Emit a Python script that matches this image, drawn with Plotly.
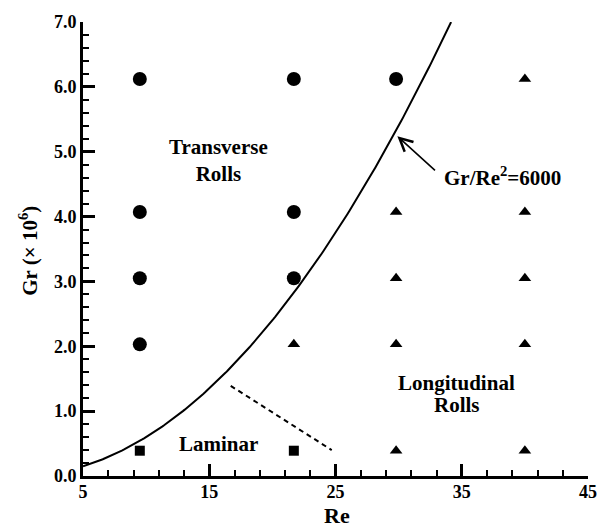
import numpy as np
import plotly.graph_objects as go

# Flow-regime observations, Re vs Gr (in units of 10^6)
transverse_re = [9.5, 9.5, 9.5, 9.5, 21.7, 21.7, 21.7, 29.8]
transverse_gr = [6.12, 4.07, 3.05, 2.03, 6.12, 4.07, 3.05, 6.12]

laminar_re = [9.5, 21.7]
laminar_gr = [0.39, 0.39]

longitudinal_re = [21.7, 29.8, 29.8, 29.8, 29.8, 40.0, 40.0, 40.0, 40.0, 40.0]
longitudinal_gr = [2.03, 4.07, 3.05, 2.03, 0.39, 6.12, 4.07, 3.05, 2.03, 0.39]

# Boundary Gr/Re^2 = 6000
ratio = 6000.0
boundary_re = np.linspace(5, np.sqrt(7.0e6 / ratio), 200)
boundary_gr = ratio * boundary_re ** 2 / 1e6

# Approximate laminar / longitudinal separation
sep_re = [16.7, 24.7]
sep_gr = [1.39, 0.40]

x_ticks = [5, 15, 25, 35, 45]
y_ticks = [0.0, 1.0, 2.0, 3.0, 4.0, 5.0, 6.0, 7.0]

FONT = "Liberation Serif"

fig = go.Figure()

fig.add_trace(go.Scatter(x=boundary_re, y=boundary_gr, mode="lines",
                         line=dict(color="black", width=2), hoverinfo="skip"))
fig.add_trace(go.Scatter(x=sep_re, y=sep_gr, mode="lines",
                         line=dict(color="black", width=2, dash="5px,4px")))
fig.add_trace(go.Scatter(x=transverse_re, y=transverse_gr, mode="markers",
                         marker=dict(symbol="circle", size=14, color="black")))
fig.add_trace(go.Scatter(x=laminar_re, y=laminar_gr, mode="markers",
                         marker=dict(symbol="square", size=10, color="black")))
fig.add_trace(go.Scatter(x=longitudinal_re, y=longitudinal_gr, mode="markers",
                         marker=dict(symbol="triangle-up", size=11, color="black")))

label_font = dict(family=FONT, size=21, color="black")
annotations = [
    dict(x=15.7, y=4.86, text="<b>Transverse<br>Rolls</b>", showarrow=False, font=label_font),
    dict(x=34.6, y=1.44, text="<b>Longitudinal</b>", showarrow=False, font=label_font),
    dict(x=34.6, y=1.10, text="<b>Rolls</b>", showarrow=False, font=label_font),
    dict(x=15.74, y=0.50, text="<b>Laminar</b>", showarrow=False, font=label_font),
    dict(x=33.4, y=4.62, text="<b>Gr/Re<sup>2</sup>=6000</b>", showarrow=False,
         xanchor="left", font=label_font),
    # arrow pointing at the boundary curve
    dict(x=29.9, y=5.24, ax=33.0, ay=4.69, axref="x", ayref="y", xref="x", yref="y",
         text="", showarrow=True, arrowhead=5, arrowsize=1.6, arrowwidth=1.6,
         arrowcolor="black"),
    dict(x=-0.107, y=0.496, xref="paper", yref="paper", textangle=-90,
         xanchor="center", yanchor="middle",
         text="<b>Gr (× 10<sup>6</sup>)</b>", showarrow=False, font=label_font),
    dict(x=0.502, y=-0.087, xref="paper", yref="paper",
         xanchor="center", yanchor="middle",
         text="<b>Re</b>", showarrow=False, font=dict(family=FONT, size=22, color="black")),
]

fig.update_layout(
    width=609, height=529,
    margin=dict(l=83, r=13, t=14, b=53),
    paper_bgcolor="white", plot_bgcolor="white",
    showlegend=False,
    annotations=annotations,
    font=dict(family=FONT, color="black"),
)

fig.update_xaxes(
    range=[5, 45], tickmode="array", tickvals=x_ticks,
    ticktext=[f"<b>{v}</b>" for v in x_ticks],
    ticks="inside", ticklen=12, tickwidth=3, tickcolor="black",
    minor=dict(dtick=2, tick0=5, ticks="inside", ticklen=6, tickwidth=2, tickcolor="black"),
    showline=True, linewidth=3, linecolor="black", showgrid=False, zeroline=False,
    tickfont=dict(family=FONT, size=18, color="black"),
    ticklabelstandoff=-3,
)
fig.update_yaxes(
    range=[0, 7], tickmode="array", tickvals=y_ticks,
    ticktext=[f"<b>{v:.1f}</b>" for v in y_ticks],
    ticks="inside", ticklen=12, tickwidth=3, tickcolor="black",
    minor=dict(dtick=0.2, tick0=0, ticks="inside", ticklen=6, tickwidth=2, tickcolor="black"),
    showline=True, linewidth=3, linecolor="black", showgrid=False, zeroline=False,
    tickfont=dict(family=FONT, size=18, color="black"),
)

fig.write_html("out.html")
